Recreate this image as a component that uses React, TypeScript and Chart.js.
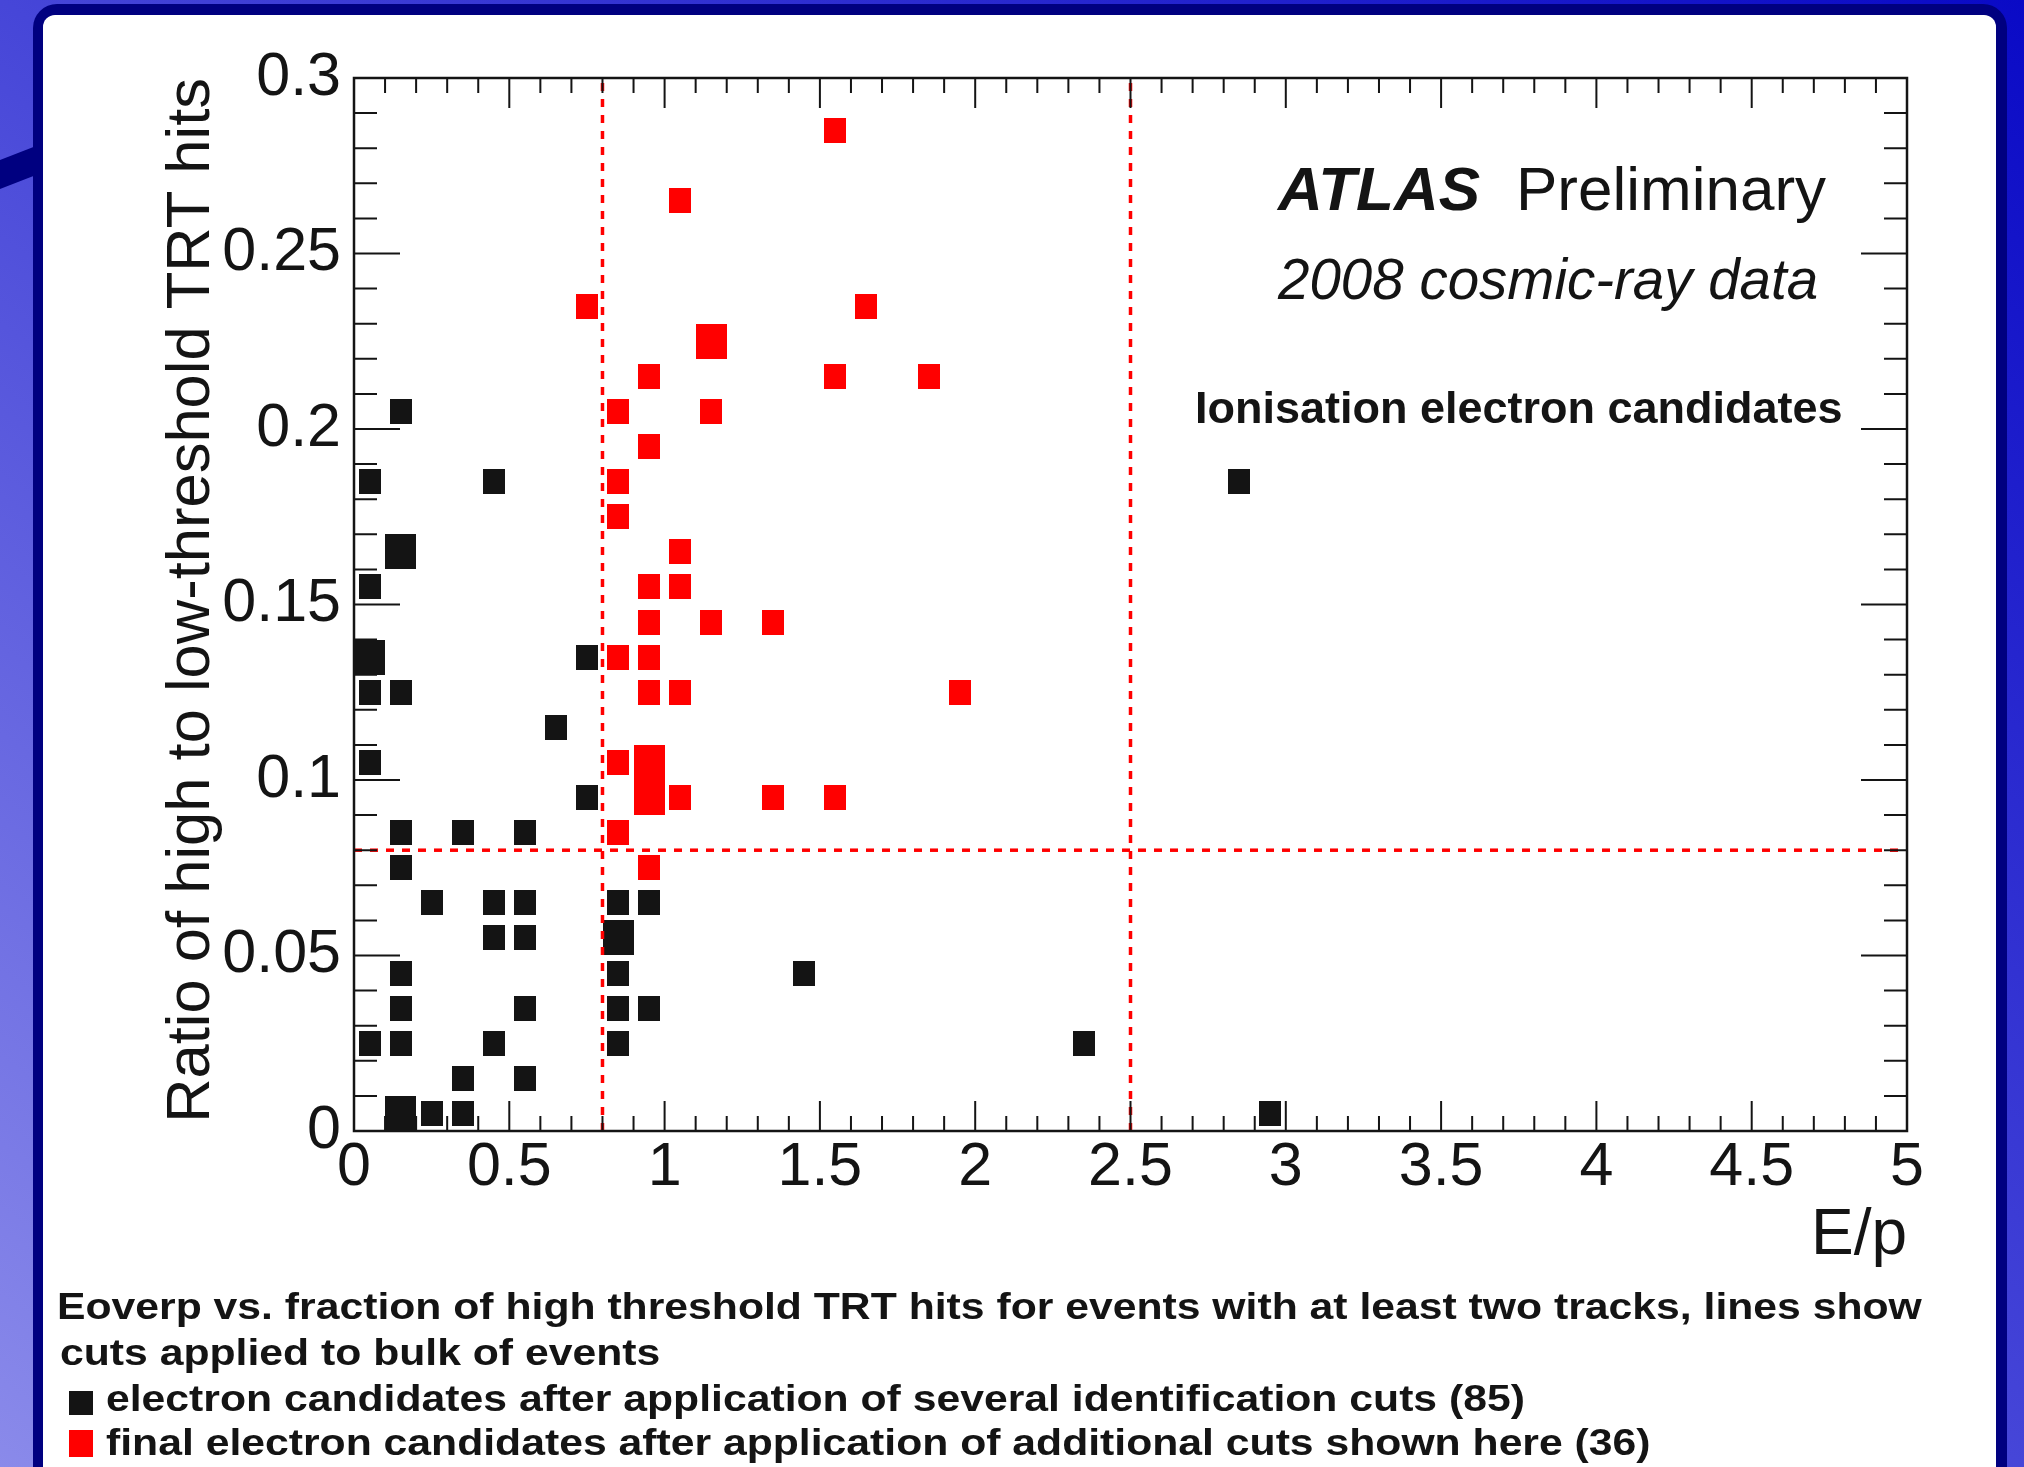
import React, { useEffect, useRef } from 'react';
import { Chart, registerables } from 'chart.js';

Chart.register(...registerables);

const FONT = '"Liberation Sans", Arial, Helvetica, sans-serif';
const INK = '#141414';
const RED = '#ff0000';

// ---- axis ranges / binning (2D histogram bins: 0.1 in E/p, 0.01 in ratio) ----
const xRange = [0, 5];
const yRange = [0, 0.3];
const binWidthX = 0.1;
const binWidthY = 0.01;
const xTickLabels = ['0', '0.5', '1', '1.5', '2', '2.5', '3', '3.5', '4', '4.5', '5'];
const yTickLabels = ['0', '0.05', '0.1', '0.15', '0.2', '0.25', '0.3'];

// ---- electron candidates after identification cuts (black boxes) ----
const candX = [
  0.15, 0.05, 0.45, 2.85, 0.15, 0.05, 0.05, 0.75, 0.05, 0.15, 0.65, 0.05, 0.75,
  0.15, 0.35, 0.55, 0.15, 0.25, 0.45, 0.55, 0.85, 0.95, 0.45, 0.55, 0.85,
  0.15, 0.85, 1.45, 0.15, 0.55, 0.85, 0.95, 0.05, 0.15, 0.45, 0.85, 2.35,
  0.35, 0.55, 0.15, 0.25, 0.35, 2.95,
];
const candY = [
  0.205, 0.185, 0.185, 0.185, 0.165, 0.155, 0.135, 0.135, 0.125, 0.125, 0.115, 0.105, 0.095,
  0.085, 0.085, 0.085, 0.075, 0.065, 0.065, 0.065, 0.065, 0.065, 0.055, 0.055, 0.055,
  0.045, 0.045, 0.045, 0.035, 0.035, 0.035, 0.035, 0.025, 0.025, 0.025, 0.025, 0.025,
  0.015, 0.015, 0.005, 0.005, 0.005, 0.005,
];
const candN = [
  1, 1, 1, 1, 2, 1, 2, 1, 1, 1, 1, 1, 1,
  1, 1, 1, 1, 1, 1, 1, 1, 1, 1, 1, 2,
  1, 1, 1, 1, 1, 1, 1, 1, 1, 1, 1, 1,
  1, 1, 2, 1, 1, 1,
];

// ---- final electron candidates (red boxes) ----
const finalX = [
  1.55, 1.05, 0.75, 1.65, 1.15, 0.95, 1.55, 1.85, 0.85, 1.15, 0.95, 0.85, 0.85,
  1.05, 0.95, 1.05, 0.95, 1.15, 1.35, 0.85, 0.95, 0.95, 1.05, 1.95,
  0.85, 0.95, 0.95, 1.05, 1.35, 1.55, 0.85, 0.95,
];
const finalY = [
  0.285, 0.265, 0.235, 0.235, 0.225, 0.215, 0.215, 0.215, 0.205, 0.205, 0.195, 0.185, 0.175,
  0.165, 0.155, 0.155, 0.145, 0.145, 0.145, 0.135, 0.135, 0.125, 0.125, 0.125,
  0.105, 0.105, 0.095, 0.095, 0.095, 0.095, 0.085, 0.075,
];
const finalN = [
  1, 1, 1, 1, 2, 1, 1, 1, 1, 1, 1, 1, 1,
  1, 1, 1, 1, 1, 1, 1, 1, 1, 1, 1,
  1, 2, 2, 1, 1, 1, 1, 1,
];

// ---- cut lines ----
const cutEoverP = [0.8, 2.5];
const cutRatio = [0.08];

// ---- texts ----
const yTitle = 'Ratio of high to low-threshold TRT hits';
const xTitle = 'E/p';
const captionLines = [
  'Eoverp vs. fraction of high threshold TRT hits for events with at least two tracks, lines show',
  'cuts applied to bulk of events',
];
const legendLabels = [
  'electron candidates after application of several identification cuts (85)',
  'final electron candidates after application of additional cuts shown here (36)',
];

type Pt = { x: number; y: number; n: number };
const toPoints = (xs: number[], ys: number[], ns: number[]): Pt[] =>
  xs.map((x, i) => ({ x, y: ys[i], n: ns[i] }));

export default function App() {
  const ref = useRef<HTMLCanvasElement>(null);

  useEffect(() => {
    const canvas = ref.current;
    if (!canvas) return;

    const nMax = Math.max(...candN, ...finalN);
    const mk = (color: string) => {
      const c = document.createElement('canvas');
      c.width = 1;
      c.height = 1;
      (c as any)._fill = color;
      return c;
    };
    const boxImgs: Record<string, HTMLCanvasElement[]> = {
      cand: Array.from({ length: nMax + 1 }, () => mk(INK)),
      final: Array.from({ length: nMax + 1 }, () => mk(RED)),
    };

    const boxPlugin = {
      id: 'binBoxes',
      afterLayout(chart: any) {
        const { x, y } = chart.scales;
        const bw = Math.abs(x.getPixelForValue(binWidthX) - x.getPixelForValue(0));
        const bh = Math.abs(y.getPixelForValue(0) - y.getPixelForValue(binWidthY));
        Object.keys(boxImgs).forEach((k) => {
          boxImgs[k].forEach((c, n) => {
            if (n === 0) return;
            const f = Math.sqrt(n / nMax);
            c.width = Math.max(1, Math.round(bw * f));
            c.height = Math.max(1, Math.round(bh * f));
            const g = c.getContext('2d')!;
            g.fillStyle = (c as any)._fill;
            g.fillRect(0, 0, c.width, c.height);
          });
        });
      },
    };

    const framePlugin = {
      id: 'rootFrame',
      afterDatasetsDraw(chart: any) {
        const { ctx, chartArea: a, scales } = chart;
        const { x, y } = scales;
        ctx.save();
        ctx.strokeStyle = INK;
        ctx.lineWidth = 2;
        ctx.beginPath();
        const nx = Math.round((xRange[1] - xRange[0]) / binWidthX);
        for (let i = 0; i <= nx; i++) {
          const px = x.getPixelForValue(xRange[0] + i * binWidthX);
          const L = i % 5 === 0 ? 30 : 15;
          ctx.moveTo(px, a.bottom);
          ctx.lineTo(px, a.bottom - L);
          ctx.moveTo(px, a.top);
          ctx.lineTo(px, a.top + L);
        }
        const ny = Math.round((yRange[1] - yRange[0]) / binWidthY);
        for (let i = 0; i <= ny; i++) {
          const py = y.getPixelForValue(yRange[0] + i * binWidthY);
          const L = i % 5 === 0 ? 46 : 23;
          ctx.moveTo(a.left, py);
          ctx.lineTo(a.left + L, py);
          ctx.moveTo(a.right, py);
          ctx.lineTo(a.right - L, py);
        }
        ctx.stroke();
        ctx.lineWidth = 2.5;
        ctx.strokeRect(a.left, a.top, a.right - a.left, a.bottom - a.top);
        ctx.restore();
      },
    };

    const labelPlugin = {
      id: 'atlasLabels',
      afterDraw(chart: any) {
        const ctx = chart.ctx;
        ctx.save();
        ctx.fillStyle = INK;
        ctx.textBaseline = 'alphabetic';
        ctx.textAlign = 'left';
        ctx.font = `italic bold 62px ${FONT}`;
        ctx.fillText('ATLAS', 1278, 210);
        ctx.font = `62px ${FONT}`;
        ctx.fillText('Preliminary', 1516, 210);
        ctx.font = `italic 56.5px ${FONT}`;
        ctx.fillText('2008 cosmic-ray data', 1278, 299);
        ctx.font = `bold 45px ${FONT}`;
        ctx.fillText('Ionisation electron candidates', 1195, 423);
        ctx.restore();
      },
    };

    const cutStyle = {
      showLine: true,
      borderColor: RED,
      borderWidth: 3.5,
      borderDash: [8, 8],
      pointRadius: 0,
      order: 0,
    };

    const chart = new Chart(canvas, {
      type: 'scatter',
      data: {
        datasets: [
          ...cutEoverP.map((v) => ({
            ...cutStyle,
            label: `E/p cut ${v}`,
            data: [
              { x: v, y: yRange[0] },
              { x: v, y: yRange[1] },
            ],
          })),
          ...cutRatio.map((v) => ({
            ...cutStyle,
            label: `ratio cut ${v}`,
            data: [
              { x: xRange[0], y: v },
              { x: xRange[1], y: v },
            ],
          })),
          {
            label: legendLabels[1],
            data: toPoints(finalX, finalY, finalN),
            pointStyle: (c: any) => boxImgs.final[(c.raw && c.raw.n) || 1],
            pointRadius: 5,
            order: 1,
          },
          {
            label: legendLabels[0],
            data: toPoints(candX, candY, candN),
            pointStyle: (c: any) => boxImgs.cand[(c.raw && c.raw.n) || 1],
            pointRadius: 5,
            order: 2,
          },
        ] as any,
      },
      options: {
        animation: false,
        responsive: false,
        maintainAspectRatio: false,
        devicePixelRatio: 1,
        events: [],
        layout: { padding: { left: 0, right: 117, top: 78, bottom: 166 } },
        plugins: {
          legend: { display: false },
          tooltip: { enabled: false },
          title: { display: false },
        },
        scales: {
          x: {
            type: 'linear',
            min: xRange[0],
            max: xRange[1],
            afterFit: (s: any) => {
              s.height = 170;
            },
            grid: { display: false, drawTicks: false },
            border: { display: false },
            ticks: {
              stepSize: 0.5,
              autoSkip: false,
              maxRotation: 0,
              padding: 1,
              color: INK,
              font: { family: FONT, size: 61 },
              callback: (_v: any, i: number) => xTickLabels[i],
            },
            title: {
              display: true,
              text: xTitle,
              align: 'end',
              color: INK,
              font: { family: FONT, size: 64 },
              padding: { top: 0, bottom: 26 },
            },
          },
          y: {
            type: 'linear',
            min: yRange[0],
            max: yRange[1],
            afterFit: (s: any) => {
              s.width = 354;
            },
            grid: { display: false, drawTicks: false },
            border: { display: false },
            ticks: {
              stepSize: 0.05,
              padding: 13,
              color: INK,
              font: { family: FONT, size: 61 },
              callback: (_v: any, i: number) => yTickLabels[i],
            },
            title: {
              display: true,
              text: yTitle,
              align: 'end',
              color: INK,
              font: { family: FONT, size: 61.5 },
              padding: { top: 155, bottom: 0 },
            },
          },
        },
      } as any,
      plugins: [boxPlugin, framePlugin, labelPlugin],
    });

    return () => chart.destroy();
  }, []);

  const captionStyle: React.CSSProperties = {
    position: 'absolute',
    font: `bold 37px ${FONT}`,
    lineHeight: '37px',
    color: INK,
    whiteSpace: 'nowrap',
    transform: 'scaleX(1.154)',
    transformOrigin: '0 0',
  };

  return (
    <div
      style={{
        position: 'fixed',
        left: 0,
        top: 0,
        width: 2024,
        height: 1467,
        overflow: 'hidden',
        background: 'linear-gradient(to bottom left, #0a0ac6 0%, #4646d8 50%, #8a8aea 100%)',
      }}
    >
      <div
        style={{
          position: 'absolute',
          left: 0,
          top: 0,
          width: 40,
          height: 220,
          background: '#000080',
          clipPath: 'polygon(0px 160px, 36px 146px, 36px 175px, 0px 189px)',
        }}
      />
      <div
        style={{
          position: 'absolute',
          left: 33,
          top: 4,
          width: 1974,
          height: 1520,
          background: '#000080',
          borderRadius: 24,
        }}
      />
      <div
        style={{
          position: 'absolute',
          left: 43,
          top: 15,
          width: 1953,
          height: 1500,
          background: '#ffffff',
          borderRadius: 12,
        }}
      />
      <canvas
        ref={ref}
        width={2024}
        height={1467}
        style={{ position: 'absolute', left: 0, top: 0, width: 2024, height: 1467 }}
      />
      <div style={{ ...captionStyle, left: 57, top: 1288 }}>{captionLines[0]}</div>
      <div style={{ ...captionStyle, left: 60, top: 1334 }}>{captionLines[1]}</div>
      <div style={{ position: 'absolute', left: 69, top: 1391, width: 24, height: 24, background: INK }} />
      <div style={{ ...captionStyle, left: 106, top: 1380 }}>{legendLabels[0]}</div>
      <div style={{ position: 'absolute', left: 69, top: 1430, width: 24, height: 27, background: RED }} />
      <div style={{ ...captionStyle, left: 106, top: 1424 }}>{legendLabels[1]}</div>
    </div>
  );
}
